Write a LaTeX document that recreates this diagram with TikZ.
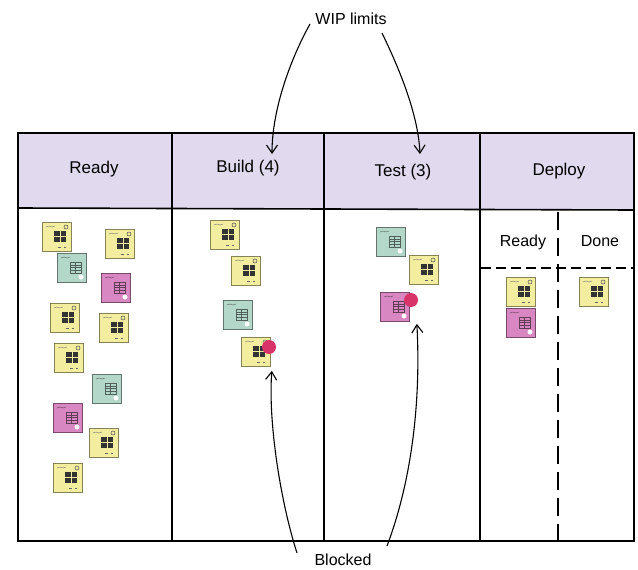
\documentclass[tikz,border=0pt]{standalone}
\usepackage{fontspec}
\setmainfont{Liberation Sans}
\usetikzlibrary{arrows.meta}
\definecolor{hdr}{HTML}{E1DAEE}
\definecolor{ynote}{HTML}{F3EDA0}
\definecolor{gnote}{HTML}{B3D7C9}
\definecolor{pnote}{HTML}{D987C2}
\definecolor{blk}{HTML}{D8346A}
\begin{document}
\begin{tikzpicture}[x=1pt,y=-1pt,
		board/.style={line width=1.6pt, line cap=round},
		lbl/.style={font=\fontsize{17}{20}\selectfont},
		sublbl/.style={font=\fontsize{16}{19}\selectfont},
		note/.style={draw=#1!55!black, fill=#1, minimum size=29pt, inner sep=0pt, line width=0.7pt},
		yellownote/.style={note=ynote, path picture={
				\begin{scope}[shift={(path picture bounding box.center)}, x=1pt, y=1pt]
					\draw[black!55, line width=0.4pt] (-11,10) -- (-8,11) -- (-5,10) -- (-2,11);
					\draw[black!70, line width=0.5pt] (9,10) circle (2);
					\fill[black!80] (-3,-5) rectangle (9,6);
					\draw[ynote, line width=0.8pt] (-3,0.5) -- (9,0.5) (3,-5) -- (3,6);
					\draw[black!60, line width=0.4pt] (1,-10) -- (4,-10) (7,-10) -- (9,-10);
				\end{scope}}},
		lightnote/.style={note=#1, path picture={
				\begin{scope}[shift={(path picture bounding box.center)}, x=1pt, y=1pt]
					\draw[#1!45!black, line width=0.4pt] (-11,10) -- (-8,11) -- (-5,10) -- (-2,11);
					\draw[#1!45!black, line width=0.5pt] (-2,-5) rectangle (9,6) (-2,0.5) -- (9,0.5) (3.5,-5) -- (3.5,6)
						(-2,3.2) -- (9,3.2) (-2,-2.2) -- (9,-2.2);
					\fill[white] (9,-9) circle (2.5);
				\end{scope}}},
		greennote/.style={lightnote=gnote},
		pinknote/.style={lightnote=pnote},
		blockdot/.style={circle, fill=blk, minimum size=14pt, inner sep=0pt},
		callout/.style={line width=1.1pt, -{Straight Barb[length=8pt,width=11pt]}}
	]
	\useasboundingbox (0,0) rectangle (638,570);
	% board
	\fill[hdr] (18,133) rectangle (634,209);
	\draw[board] (18,133) rectangle (634,541);
	\draw[board] (18,208) -- (634,210);
	\draw[board] (172,133) -- (172,541);
	\draw[board] (324,133) -- (324,541);
	\draw[board] (480,133) -- (480,541);
	\draw[board, line cap=butt, dash pattern=on 18pt off 8pt] (558,212) -- (558,541);
	\draw[board, line cap=butt, dash pattern=on 10pt off 5pt] (481,268) -- (634,268);
	% headers
	\node[lbl] (h1) at (94,169) {Ready};
	\node[lbl] (h2) at (248,168) {Build (4)};
	\node[lbl] (h3) at (403,172) {Test (3)};
	\node[lbl] (h4) at (559,171) {Deploy};
	\node[sublbl] (s1) at (523,242) {Ready};
	\node[sublbl] (s2) at (600,241) {Done};
	% ready
	\node[yellownote] (r1) at (57,237) {};
	\node[yellownote] (r2) at (120,244) {};
	\node[greennote] (r3) at (72,268) {};
	\node[pinknote] (r4) at (116,288) {};
	\node[yellownote] (r5) at (65,318) {};
	\node[yellownote] (r6) at (114,328) {};
	\node[yellownote] (r7) at (69,358) {};
	\node[greennote] (r8) at (107,389) {};
	\node[pinknote] (r9) at (68,418) {};
	\node[yellownote] (r10) at (104,443) {};
	\node[yellownote] (r11) at (68,478) {};
	% build
	\node[yellownote] (b1) at (225,235) {};
	\node[yellownote] (b2) at (246,271) {};
	\node[greennote] (b3) at (238,315) {};
	\node[yellownote] (b4) at (256,352) {};
	\node[blockdot] (x1) at (269,347) {};
	% test
	\node[greennote] (t1) at (391,242) {};
	\node[yellownote] (t2) at (424,270) {};
	\node[pinknote] (t3) at (395,307) {};
	\node[blockdot] (x2) at (411,300) {};
	% deploy
	\node[yellownote] (d1) at (521,292) {};
	\node[pinknote] (d2) at (521,323) {};
	\node[yellownote] (d3) at (594,292) {};
	% callouts
	\node[sublbl] (w) at (351,19) {WIP limits};
	\node[sublbl] (bl) at (343,560) {Blocked};
	\coordinate (wb) at (272,154);
	\coordinate (wt) at (420,154);
	\draw[callout] (310,24) .. controls (290,60) and (272,110) .. (wb);
	\draw[callout] (382,33) .. controls (395,60) and (418,110) .. (wt);
	\draw[callout] (297,553) .. controls (280,500) and (268,420) .. ([xshift=1pt,yshift=-4pt]b4.south east);
	\draw[callout] (387,546) .. controls (412,480) and (421,400) .. ([xshift=7pt,yshift=-2pt]t3.south east);
\end{tikzpicture}
\end{document}
